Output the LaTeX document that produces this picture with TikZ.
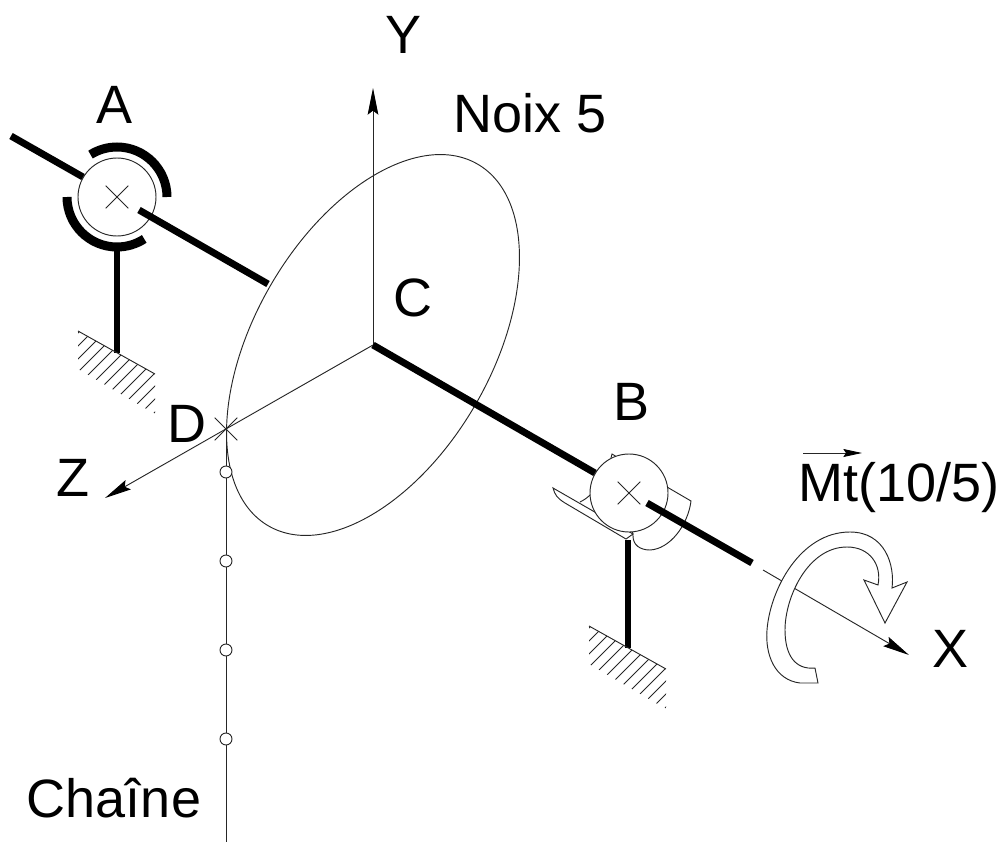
\documentclass[tikz,border=0pt]{standalone}
\usepackage{fontspec}
\setmainfont{Liberation Sans}
\usetikzlibrary{shapes.misc, arrows.meta}
\tikzstyle{lab} = [inner sep=0pt, font=\fontsize{40.5}{44}\selectfont]
\tikzstyle{fine} = [line width=0.7pt, draw=black!85]
\tikzstyle{axis} = [fine, -{Stealth[length=20pt,width=8pt,inset=3pt,color=black]}]
\tikzstyle{shaft} = [line width=5.2pt, draw=black]
\tikzstyle{journal} = [circle, fine, fill=white, minimum size=58.5pt, inner sep=0pt]
\tikzstyle{crossmark} = [cross out, fine, minimum size=17pt, inner sep=0pt, outer sep=0pt]
\tikzstyle{shell} = [line width=6.75pt, draw=black]
\tikzstyle{link} = [circle, fine, fill=white, minimum size=9pt, inner sep=0pt]
\newcommand{\groundhatch}[1]{
  \begin{scope}[shift={(#1)}]
    \draw [fine] (-39,-22) -- (38,21);
    \begin{scope}
      \clip (-39,-22) -- (38,21) -- (38,61) -- (-39,16) -- cycle;
      \foreach \c in {-59,-46,...,100}
        \draw [fine] (\c+60,-60) -- (\c-60,60);
    \end{scope}
  \end{scope}
}

\begin{document}
\begin{tikzpicture}[x=0.75pt, y=-0.75pt]
\useasboundingbox (0,0) rectangle (1003,842);

\coordinate (orig) at (373,345);
\coordinate (yend) at (373,88);
\coordinate (zend) at (105,498);
\coordinate (xstart) at (763,570);
\coordinate (xend) at (909,655);
\coordinate (chainend) at (226,842);

% wheel and axes
\draw [fine, rotate around={60:(orig)}] (orig) ellipse [x radius=156.7pt, y radius=88.9pt];
\draw [axis] (orig) -- (yend);
\draw [axis] (orig) -- (zend);
\draw [axis] (xstart) -- (xend);

\node (ptD) [crossmark] at (226,429) {};
\draw [fine] (ptD.center) -- (chainend);
\foreach \y in {472,561,650,739}
  \node (link\y) [link] at (226,\y) {};

% bearing A
\node (bearA) [journal] at (117,197) {};
\node (crossA) [crossmark] at (117,197) {};
\draw [shell] (bearA.center) ++(0:37.5pt) arc (0:122:37.5pt);
\draw [shell] (bearA.center) ++(180:37.5pt) arc (180:303:37.5pt);
\coordinate (shaftA1) at (11,136);
\coordinate (shaftA2) at (83,177);
\coordinate (shaftA3) at (139,210);
\coordinate (shaftA4) at (268,284);
\draw [shaft] (shaftA1) -- (shaftA2);
\draw [shaft] (shaftA3) -- (shaftA4);
\coordinate (footA) at (117,353);
\draw [shaft] (117,247) -- (footA);
\groundhatch{117,353}

% bearing B
\draw [fine, fill=white] (667,487) -- (691,501) .. controls (688,525) and (670,549) .. (650,550) .. controls (640,550) and (633,545) .. (633,536) -- (629,493) -- cycle;
\draw [fine] (611,458) -- (612,454) -- (617,457);
\draw [fine] (580,502) .. controls (584,500) and (587,498) .. (590,495);
\draw [fine, fill=white] (553,488) -- (633,534) -- (626,539) -- (565,503) .. controls (557,498) and (555,495) .. (553,488) -- cycle;
\node (bearB) [journal] at (629,493) {};
\node (crossB) [crossmark] at (629,493) {};
\coordinate (shaftB1) at (595,473);
\coordinate (shaftB2) at (647,503);
\coordinate (shaftB3) at (752,563);
\draw [shaft] (orig) -- (shaftB1);
\draw [shaft] (shaftB2) -- (shaftB3);
\coordinate (footB) at (628,648);
\draw [shaft] (628,540) -- (footB);
\groundhatch{628,648}

% moment arrow
\draw [fine, fill=white, line join=miter]
  (818,683) -- (800,683)
  .. controls (775,680) and (765,655) .. (767,630)
  .. controls (770,590) and (800,532) .. (850,532)
  .. controls (885,532) and (895,565) .. (892,588)
  -- (907,582) -- (885,623) -- (864,580) -- (878,585)
  .. controls (882,565) and (870,547) .. (847,547)
  .. controls (808,547) and (785,597) .. (785,630)
  .. controls (785,655) and (795,670) .. (815,668)
  -- cycle;

% labels
\node (labY) [lab] at (404,35) {Y};
\node (labA) [lab] at (115,105) {A};
\node (labNoix) [lab] at (530,113) {Noix 5};
\node (labC) [lab] at (413,298) {C};
\node (labD) [lab] at (187,424) {D};
\node (labZ) [lab] at (73,478) {Z};
\node (labB) [lab] at (632,402) {B};
\node (labMt) [lab] at (899,488) {Mt(10/5)};
\node (labX) [lab] at (950,649) {X};
\node (labChaine) [lab] at (114,798) {Chaîne};

\coordinate (mta) at (803,453);
\coordinate (mtb) at (862,453);
\draw [fine, -{Stealth[length=14pt,width=6pt,inset=2pt,color=black]}] (mta) -- (mtb);

\end{tikzpicture}
\end{document}
